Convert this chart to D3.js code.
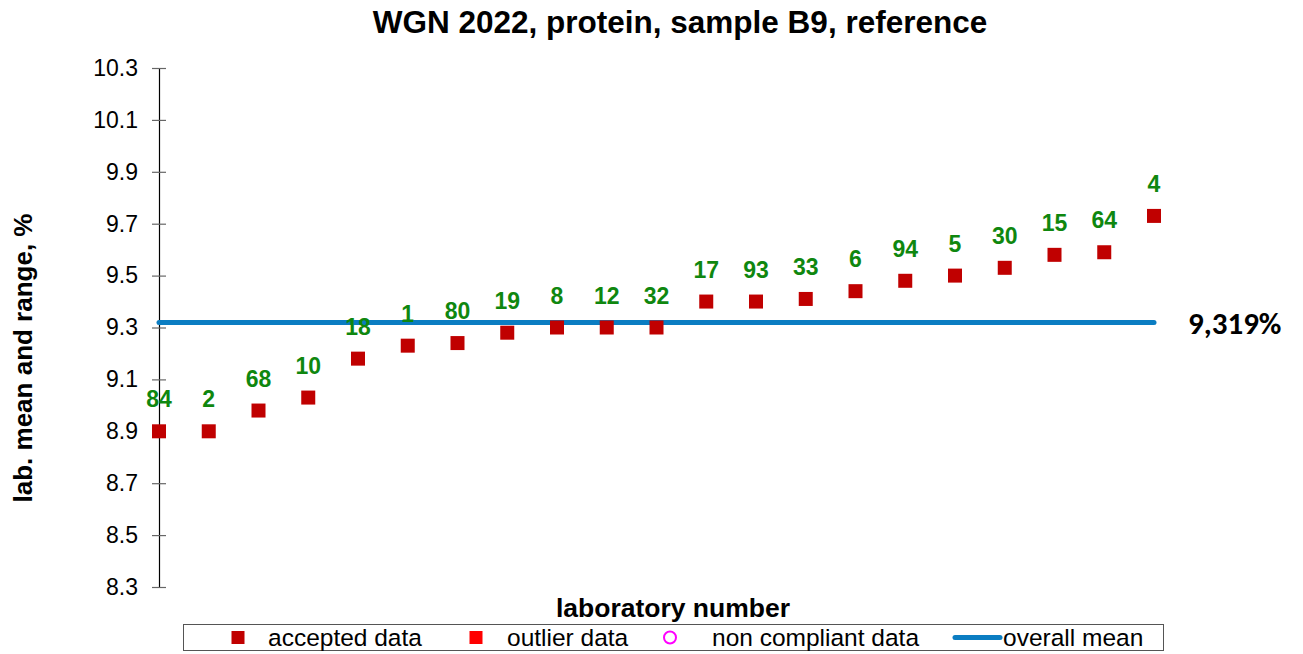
<!DOCTYPE html>
<html>
<head>
<meta charset="utf-8">
<script src="https://cdn.jsdelivr.net/npm/d3@7"></script>
<style>
  html, body { margin: 0; padding: 0; background: #fff; }
  svg { display: block; font-family: "Liberation Sans", Arial, sans-serif; }
</style>
</head>
<body>
<svg id="chart" width="1303" height="654"></svg>
<script>
// ---- data ----
const labs = ["84","2","68","10","18","1","80","19","8","12","32","17","93","33","6","94","5","30","15","64","4"];
const labMeans = [8.90,8.90,8.98,9.03,9.18,9.23,9.24,9.28,9.30,9.30,9.30,9.40,9.40,9.41,9.44,9.48,9.50,9.53,9.58,9.59,9.73];
const overallMean = 9.319;
const yTicks = [8.3,8.5,8.7,8.9,9.1,9.3,9.5,9.7,9.9,10.1,10.3];
const legendItems = ["accepted data","outlier data","non compliant data","overall mean"];
const titleText = "WGN 2022, protein, sample B9, reference";

// ---- layout ----
const svg = d3.select("#chart");
const x = d3.scalePoint().domain(labs).range([159, 1154]).padding(0);
const y = d3.scaleLinear().domain([8.3, 10.3]).range([587, 68]);

// title
svg.append("text").attr("x", 680).attr("y", 33).attr("text-anchor", "middle")
  .attr("font-size", 31.5).attr("font-weight", "bold").attr("fill", "#000").text(titleText);

// y axis
const yAxis = d3.axisLeft(y).tickValues(yTicks).tickFormat(d3.format(".1f")).tickSize(0).tickPadding(21);
const gy = svg.append("g").attr("transform", "translate(159,0)").call(yAxis);
gy.select(".domain").attr("stroke", "#000").attr("stroke-width", 1.2);
gy.selectAll(".tick text").attr("font-size", 23).attr("fill", "#000")
  .attr("font-family", "'Liberation Sans', Arial, sans-serif");
gy.selectAll(".tick").append("line").attr("x1", -7).attr("x2", 7)
  .attr("stroke", "#666").attr("stroke-width", 1.2);

// y title
svg.append("text").attr("transform", "translate(32,358) rotate(-90)").attr("text-anchor", "middle")
  .attr("font-size", 26).attr("font-weight", "bold").text("lab. mean and range, %");

// mean line
svg.append("line")
  .attr("x1", x(labs[0])).attr("x2", x(labs[labs.length - 1]))
  .attr("y1", y(overallMean)).attr("y2", y(overallMean))
  .attr("stroke", "#0b7dc2").attr("stroke-width", 5).attr("stroke-linecap", "round");

svg.append("text").attr("x", 1188).attr("y", y(overallMean) + 11)
  .attr("font-family", "Carlito, 'Open Sans', sans-serif")
  .attr("font-size", 31).attr("font-weight", "bold").attr("fill", "#000")
  .text(d3.format(".3f")(overallMean).replace(".", ",") + "%");

// points
const data = labs.map((l, i) => ({ lab: l, v: labMeans[i] }));
const sq = 14;
svg.append("g").selectAll("rect").data(data).join("rect")
  .attr("x", d => x(d.lab) - sq / 2).attr("y", d => y(d.v) - sq / 2)
  .attr("width", sq).attr("height", sq).attr("fill", "#c00000");

// labels
svg.append("g").selectAll("text").data(data).join("text")
  .attr("x", d => x(d.lab)).attr("y", d => y(d.v) - 24)
  .attr("text-anchor", "middle").attr("font-size", 23).attr("font-weight", "bold")
  .attr("fill", "#0f870f").text(d => d.lab);

// x title
svg.append("text").attr("x", 673).attr("y", 617).attr("text-anchor", "middle")
  .attr("font-size", 26.5).attr("font-weight", "bold").text("laboratory number");

// legend
const lg = svg.append("g");
lg.append("rect").attr("x", 183.5).attr("y", 624.5).attr("width", 980).attr("height", 26)
  .attr("fill", "#fff").attr("stroke", "#555").attr("stroke-width", 1);
const ly = 637.5;
lg.append("rect").attr("x", 238 - 6.5).attr("y", ly - 6.5).attr("width", 13).attr("height", 13).attr("fill", "#c00000");
lg.append("rect").attr("x", 476 - 6.5).attr("y", ly - 6.5).attr("width", 13).attr("height", 13).attr("fill", "#ff0000");
lg.append("circle").attr("cx", 670).attr("cy", ly).attr("r", 6).attr("fill", "none").attr("stroke", "#ff00ff").attr("stroke-width", 2);
lg.append("line").attr("x1", 955).attr("x2", 1000).attr("y1", ly).attr("y2", ly)
  .attr("stroke", "#0b7dc2").attr("stroke-width", 5).attr("stroke-linecap", "round");
const lx = [268, 507, 712, 1003];
lg.selectAll("text.leg").data(legendItems).join("text").attr("class", "leg")
  .attr("x", (d, i) => lx[i]).attr("y", ly + 8.5).attr("font-size", 24.5).attr("fill", "#000").text(d => d);
</script>
</body>
</html>
